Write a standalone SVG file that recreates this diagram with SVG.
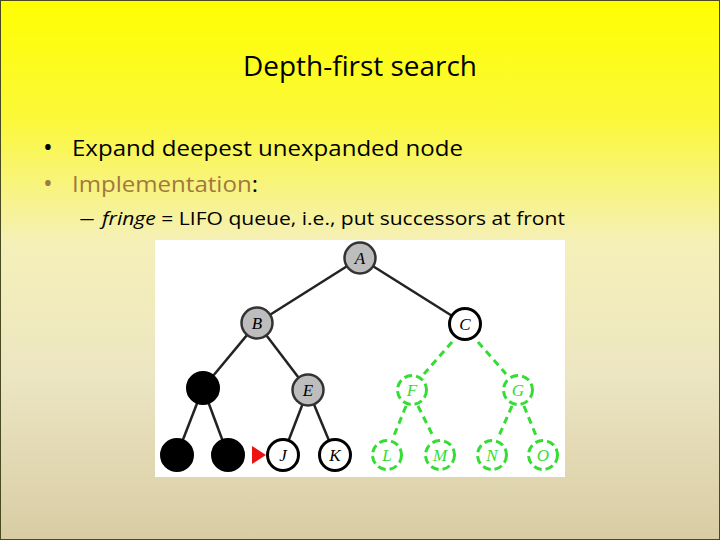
<svg xmlns="http://www.w3.org/2000/svg" width="720" height="540" viewBox="0 0 720 540">
<defs>
<linearGradient id="bg" x1="0" y1="0" x2="0" y2="1">
<stop offset="0" stop-color="#ffff00"/>
<stop offset="0.22" stop-color="#fbf83a"/>
<stop offset="0.45" stop-color="#f5f0b8"/>
<stop offset="0.7" stop-color="#ece5c2"/>
<stop offset="1" stop-color="#d8cca4"/>
</linearGradient>
<style>
.t{font-family:"Open Sans","Liberation Sans",sans-serif;}
.e{stroke:#222;stroke-width:2.5;fill:none}
.g{stroke:#33dd33;stroke-width:3;fill:none;stroke-dasharray:7,5}
.grey{fill:#bdbdbd;stroke:#333;stroke-width:2.5}
.wh{fill:#fff;stroke:#000;stroke-width:3}
.bk{fill:#000;stroke:#000;stroke-width:2}
.gn{fill:#fff;stroke:#33dd33;stroke-width:3;stroke-dasharray:8,4}
.lb{font-family:"Liberation Serif",serif;font-style:italic;font-size:17px;text-anchor:middle}
</style>
</defs>
<rect x="0" y="0" width="720" height="540" fill="url(#bg)"/>
<rect x="0.5" y="0.5" width="719" height="539" fill="none" stroke="#4a4a20" stroke-width="1"/>
<text class="t" x="360" y="76" font-size="27" text-anchor="middle" fill="#000" textLength="234" lengthAdjust="spacingAndGlyphs">Depth-first search</text>
<text class="t" x="43" y="156" font-size="26" fill="#000">•</text>
<text class="t" x="72" y="156" font-size="22" fill="#000" textLength="391" lengthAdjust="spacingAndGlyphs">Expand deepest unexpanded node</text>
<text class="t" x="43" y="192" font-size="26" fill="#a07840">•</text>
<text class="t" x="72" y="192" font-size="22" textLength="186" lengthAdjust="spacingAndGlyphs"><tspan fill="#a07840">Implementation</tspan><tspan fill="#000">:</tspan></text>
<text class="t" x="79" y="225" font-size="19" fill="#000" textLength="16" lengthAdjust="spacingAndGlyphs">–</text>
<text class="t" x="102" y="225" font-size="19" fill="#000" textLength="463" lengthAdjust="spacingAndGlyphs"><tspan font-style="italic">fringe</tspan> = LIFO queue, i.e., put successors at front</text>
<rect x="155" y="240" width="410" height="237" fill="#fff"/>
<g id="connectors">
<line class="e" x1="360" y1="258" x2="257" y2="323"/>
<line class="e" x1="360" y1="258" x2="465" y2="324"/>
<line class="e" x1="257" y1="323" x2="203" y2="388"/>
<line class="e" x1="257" y1="323" x2="308" y2="390"/>
<line class="e" x1="203" y1="388" x2="177" y2="455"/>
<line class="e" x1="203" y1="388" x2="228" y2="455"/>
<line class="e" x1="308" y1="390" x2="283" y2="455"/>
<line class="e" x1="308" y1="390" x2="335" y2="455"/>
<line class="g" x1="452" y1="342" x2="424" y2="374"/>
<line class="g" x1="478" y1="342" x2="506" y2="374"/>
<line class="g" x1="406" y1="406" x2="393" y2="438"/>
<line class="g" x1="418" y1="406" x2="434" y2="438"/>
<line class="g" x1="512" y1="406" x2="498" y2="438"/>
<line class="g" x1="524" y1="406" x2="537" y2="438"/>
<polygon points="252,446 266,455 252,464" fill="#ee1111"/>
</g>
<g id="A"><circle class="grey" cx="360" cy="258" r="15.5"/><text class="lb" x="360" y="264">A</text></g>
<g id="B"><circle class="grey" cx="257" cy="323" r="15.5"/><text class="lb" x="257" y="329">B</text></g>
<g id="C"><circle class="wh" cx="465" cy="324" r="15.5"/><text class="lb" x="465" y="330">C</text></g>
<g id="D"><circle class="bk" cx="203" cy="388" r="16"/></g>
<g id="E"><circle class="grey" cx="308" cy="390" r="15.5"/><text class="lb" x="308" y="396">E</text></g>
<g id="F"><circle class="gn" cx="412" cy="390" r="14.5"/><text class="lb" x="412" y="396" fill="#33dd33">F</text></g>
<g id="G"><circle class="gn" cx="518" cy="390" r="14.5"/><text class="lb" x="518" y="396" fill="#33dd33">G</text></g>
<g id="H"><circle class="bk" cx="177" cy="455" r="16"/></g>
<g id="I"><circle class="bk" cx="228" cy="455" r="16"/></g>
<g id="J"><circle class="wh" cx="283" cy="455" r="15.5"/><text class="lb" x="283" y="461">J</text></g>
<g id="K"><circle class="wh" cx="335" cy="455" r="15.5"/><text class="lb" x="335" y="461">K</text></g>
<g id="L"><circle class="gn" cx="387" cy="455" r="14.5"/><text class="lb" x="387" y="461" fill="#33dd33">L</text></g>
<g id="M"><circle class="gn" cx="440" cy="455" r="14.5"/><text class="lb" x="440" y="461" fill="#33dd33">M</text></g>
<g id="N"><circle class="gn" cx="492" cy="455" r="14.5"/><text class="lb" x="492" y="461" fill="#33dd33">N</text></g>
<g id="O"><circle class="gn" cx="543" cy="455" r="14.5"/><text class="lb" x="543" y="461" fill="#33dd33">O</text></g>
</svg>
